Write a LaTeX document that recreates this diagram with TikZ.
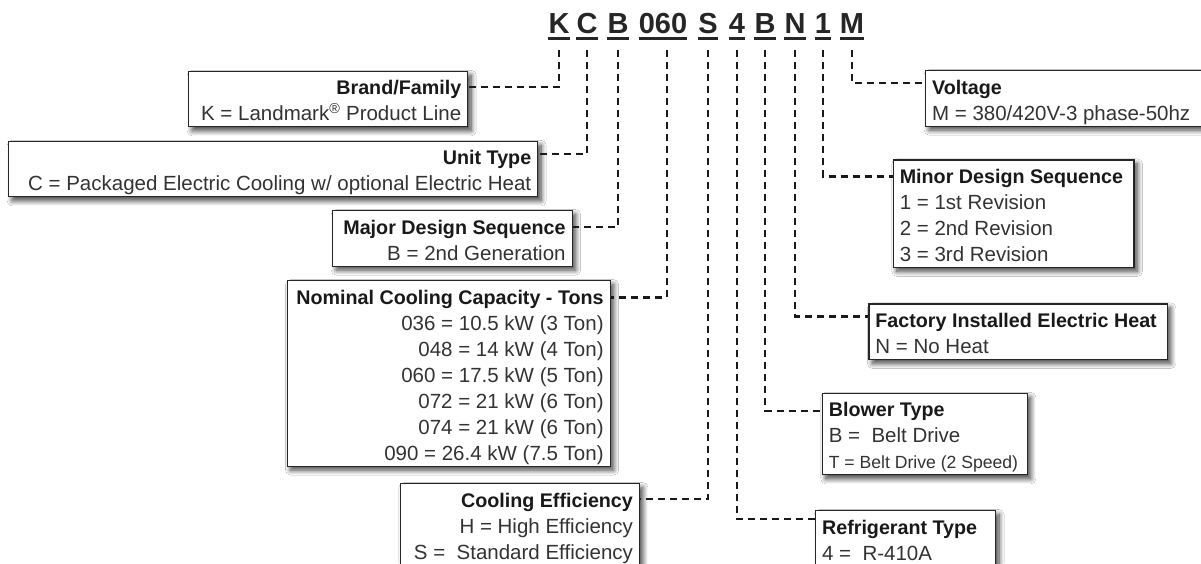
\documentclass[tikz,border=0pt]{standalone}
\usepackage{fontspec}
\setmainfont{Liberation Sans}
\usetikzlibrary{shadows.blur}
\newcommand{\boxend}{\rule[-6pt]{0pt}{6pt}}
\newcommand{\boxtitle}[1]{{\fontsize{19.7}{26}\selectfont\bfseries\color{black!90}#1}}
\begin{document}
\begin{tikzpicture}[x=1pt, y=-1pt,
    codechar/.style={font=\fontsize{29}{30}\selectfont\bfseries, text=black!85, anchor=base,
        inner xsep=0pt, inner ysep=5.5pt, text depth=0pt},
    codebox/.style={draw=black!85, line width=1.2pt, fill=white, inner xsep=6.5pt, inner ysep=0pt,
        text height=23.5pt, font=\fontsize{20.5}{26}\selectfont, text=black!80,
        blur shadow={shadow xshift=3.5pt, shadow yshift=-4pt, shadow blur radius=5pt,
        shadow blur steps=12, shadow opacity=75}},
    leftbox/.style={codebox, anchor=north east, align=flush right},
    rightbox/.style={codebox, anchor=north west, align=flush left},
    leader/.style={line width=2.4pt, dash pattern=on 7pt off 5pt, black!90}]

    % Khung hình: 1201 x 563 (1pt = 1 điểm ảnh, trục y hướng xuống)
    \useasboundingbox[fill=white] (0,0) rectangle (1201,563);

    % 1. Mã sản phẩm KCB060S4BN1M, mỗi ký hiệu có gạch chân riêng
    \foreach \n/\x/\t in {cK/559/K, cC/587/C, cB/618/B, cZ/663/060, cS/708/S,
                          cR/737/4, cW/765/B, cN/795/N, cM/823/1, cV/852/M}
        \node[codechar] (\n) at (\x,33) {\t};
    \foreach \n in {cK,cC,cB,cZ,cS,cR,cW,cN,cM,cV}
        \draw[line width=3pt, black!85] (\n.south west) -- (\n.south east);

    % 2. Các ô chú thích bên trái (chữ căn phải)
    \node[leftbox, text width=266pt] (brand) at (468.3,70.7)
        {\boxtitle{Brand/Family}\\K = Landmark\textsuperscript{®} Product Line\boxend};
    \node[leftbox, text width=516pt] (unit) at (538.3,140.7)
        {\boxtitle{Unit Type}\\C = Packaged Electric Cooling w/ optional Electric Heat\boxend};
    \node[leftbox, text width=226.4pt] (major) at (572.7,210)
        {\boxtitle{Major Design Sequence}\\B = 2nd Generation\boxend};
    \node[leftbox, text width=310pt] (nominal) at (610.7,280)
        {\boxtitle{Nominal Cooling Capacity - Tons}\\
         036 = 10.5 kW (3 Ton)\\048 = 14 kW (4 Ton)\\060 = 17.5 kW (5 Ton)\\
         072 = 21 kW (6 Ton)\\074 = 21 kW (6 Ton)\\090 = 26.4 kW (7.5 Ton)\boxend};
    \node[leftbox, text width=226pt] (effic) at (640,483)
        {\boxtitle{Cooling Efficiency}\\H = High Efficiency\\S = \ Standard Efficiency\boxend};

    % 3. Các ô chú thích bên phải (chữ căn trái)
    \node[rightbox, text width=290pt] (volt) at (925,70)
        {\boxtitle{Voltage}\\M = 380/420V-3 phase-50hz\boxend};
    \node[rightbox, text width=227.6pt] (minor) at (892.7,159.3)
        {\boxtitle{Minor Design Sequence}\\1 = 1st Revision\\2 = 2nd Revision\\3 = 3rd Revision\boxend};
    \node[rightbox, text width=285.4pt] (heat) at (868.3,303.3)
        {\boxtitle{Factory Installed Electric Heat}\\N = No Heat\boxend};
    \node[rightbox, text width=192pt] (blower) at (821.7,392.7)
        {\boxtitle{Blower Type}\\B = \ Belt Drive\\{\fontsize{17.6}{26}\selectfont T = Belt Drive (2 Speed)}\boxend};
    \node[rightbox, text width=167pt] (refrig) at (815,510)
        {\boxtitle{Refrigerant Type}\\4 = \ R-410A\boxend};

    % 4. Đường nối nét đứt từ từng ký hiệu tới ô tương ứng
    \draw[leader] ([yshift=-11.5pt]cK.south) |- ([yshift=-16.5pt]brand.north east);
    \draw[leader] ([yshift=-11.5pt]cC.south) |- ([yshift=-13pt]unit.north east);
    \draw[leader] ([yshift=-11.5pt]cB.south) |- ([yshift=-17pt]major.north east);
    \draw[leader] ([xshift=4pt,yshift=-11.5pt]cZ.south) |- ([yshift=-17.5pt]nominal.north east);
    \draw[leader] ([yshift=-11.5pt]cS.south) |- ([yshift=-16pt]effic.north east);
    \draw[leader] ([yshift=-11.5pt]cR.south) |- ([yshift=-9pt]refrig.north west);
    \draw[leader] ([yshift=-11.5pt]cW.south) |- ([yshift=-18pt]blower.north west);
    \draw[leader] ([yshift=-11.5pt]cN.south) |- ([yshift=-13pt]heat.north west);
    \draw[leader] ([yshift=-11.5pt]cM.south) |- ([yshift=-17pt]minor.north west);
    \draw[leader] ([yshift=-11.5pt]cV.south) |- ([yshift=-13pt]volt.north west);

\end{tikzpicture}
\end{document}
